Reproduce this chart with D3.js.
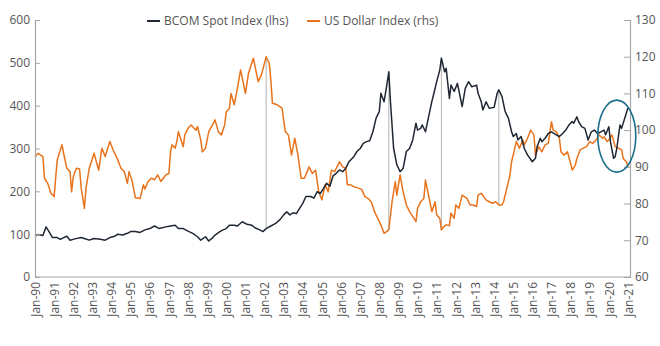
<!DOCTYPE html>
<html>
<head>
<meta charset="utf-8">
<script src="https://cdn.jsdelivr.net/npm/d3@7"></script>
<style>
  body { margin: 0; background: #fff; }
  svg { display: block; font-family: "Open Sans", sans-serif; }
</style>
</head>
<body>
<svg id="chart" width="660" height="346"></svg>
<script>
// ---------- DATA ----------
const bcomDates = ["1990-01","1990-03","1990-06","1990-08","1990-10","1990-12","1991-03","1991-05","1991-07","1991-09","1991-11",
"1992-02","1992-06","1992-08","1992-11","1993-02","1993-06","1993-09","1993-12","1994-03","1994-05","1994-08","1994-11",
"1995-01","1995-04","1995-07","1995-10","1996-01","1996-04","1996-07","1996-11","1997-02","1997-05","1997-07","1997-10",
"1998-01","1998-04","1998-07","1998-09","1998-12","1999-02","1999-04","1999-06","1999-09","1999-11","2000-01","2000-03",
"2000-06","2000-08","2000-11","2001-02","2001-05","2001-07","2001-10","2001-12","2002-02","2002-05","2002-08","2002-11",
"2003-01","2003-03","2003-05","2003-07","2003-09","2003-11","2004-01","2004-03","2004-06","2004-08","2004-10","2004-12",
"2005-02","2005-04","2005-06","2005-08","2005-10","2005-12","2006-02","2006-04","2006-06","2006-09","2006-11","2007-01",
"2007-03","2007-05","2007-07","2007-09","2007-11","2008-01","2008-02","2008-04","2008-05","2008-07","2008-08","2008-10",
"2008-12","2009-02","2009-04","2009-06","2009-08","2009-10","2009-12","2010-01","2010-03","2010-04","2010-06","2010-08",
"2010-10","2010-11","2011-01","2011-03","2011-04","2011-06","2011-07","2011-09","2011-10","2011-12","2012-02","2012-05",
"2012-07","2012-09","2012-11","2013-02","2013-03","2013-05","2013-06","2013-08","2013-10","2014-01","2014-03","2014-04",
"2014-06","2014-08","2014-10","2014-12","2015-01","2015-03","2015-04","2015-06","2015-08","2015-10","2016-01","2016-03",
"2016-04","2016-06","2016-07","2016-09","2016-11","2017-01","2017-04","2017-06","2017-08","2017-10","2017-12","2018-02",
"2018-03","2018-05","2018-06","2018-08","2018-10","2018-12","2019-02","2019-04","2019-06","2019-08","2019-10","2019-11",
"2020-01","2020-02","2020-04","2020-05","2020-06","2020-08","2020-09","2020-11","2021-01"];
const bcomValues = [97,99,97,117,105,92,92,88,92,95,86,
89,92,90,86,90,88,86,92,95,100,98,102,
106,106,104,110,113,119,113,117,119,121,113,113,
107,102,94,86,94,84,90,98,106,110,113,121,
121,119,129,123,121,115,110,106,113,119,125,135,
145,152,145,150,148,160,172,188,188,184,199,195,
207,219,212,236,242,250,246,254,269,281,293,300,
312,316,318,339,371,386,429,409,431,479,409,300,
262,246,254,293,300,320,359,343,347,355,339,375,
410,425,456,483,511,479,487,417,448,433,452,398,
441,456,444,448,429,409,390,409,394,396,429,437,
421,386,371,339,328,335,320,328,300,285,269,277,
304,324,316,324,335,339,332,328,335,343,355,363,
359,374,363,351,347,320,339,343,335,339,343,332,
351,316,277,281,300,355,347,371,395];

const usdDates = ["1990-01","1990-03","1990-06","1990-07","1990-09","1990-11","1991-01","1991-03","1991-06","1991-07","1991-09",
"1991-11","1991-12","1992-01","1992-03","1992-05","1992-06","1992-08","1992-09","1992-11","1993-01","1993-02","1993-05",
"1993-07","1993-09","1993-12","1994-02","1994-05","1994-07","1994-09","1994-11","1994-12","1995-02","1995-04","1995-07",
"1995-09","1995-10","1995-12","1996-02","1996-04","1996-06","1996-08","1996-11","1997-01","1997-02","1997-03","1997-05",
"1997-06","1997-07","1997-10","1997-11","1998-01","1998-03","1998-06","1998-07","1998-09","1998-10","1998-12","1999-02",
"1999-05","1999-06","1999-08","1999-10","1999-12","2000-01","2000-03","2000-04","2000-06","2000-08","2000-10","2001-01",
"2001-03","2001-04","2001-06","2001-09","2001-11","2002-02","2002-04","2002-05","2002-06","2002-09","2002-12","2003-02",
"2003-04","2003-06","2003-08","2003-10","2003-12","2004-02","2004-05","2004-07","2004-09","2004-11","2005-01","2005-03",
"2005-05","2005-07","2005-09","2005-10","2005-12","2006-02","2006-04","2006-05","2006-07","2006-09","2006-12","2007-02",
"2007-04","2007-06","2007-08","2007-10","2007-12","2008-02","2008-04","2008-06","2008-07","2008-09","2008-11","2008-12",
"2009-02","2009-04","2009-06","2009-08","2009-10","2009-12","2010-01","2010-03","2010-05","2010-06","2010-07","2010-10",
"2010-12","2011-01","2011-03","2011-04","2011-05","2011-07","2011-09","2011-10","2011-12","2012-01","2012-03","2012-05",
"2012-08","2012-10","2012-12","2013-02","2013-03","2013-05","2013-08","2013-10","2013-12","2014-02","2014-04","2014-06",
"2014-07","2014-09","2014-11","2014-12","2015-02","2015-03","2015-05","2015-07","2015-08","2015-10","2015-12","2016-02",
"2016-03","2016-05","2016-07","2016-09","2016-11","2017-01","2017-02","2017-04","2017-06","2017-07","2017-09","2017-11",
"2018-01","2018-02","2018-04","2018-05","2018-07","2018-09","2018-11","2019-01","2019-03","2019-05","2019-07","2019-09",
"2019-10","2019-12","2020-01","2020-03","2020-05","2020-07","2020-09","2020-10","2020-12","2021-01"];
const usdValues = [92.8,93.7,92.8,86.9,85.5,82.8,81.9,91.9,96.0,93.7,89.6,
88.7,83.2,87.3,89.6,89.4,84.2,78.7,84.2,89.6,92.3,93.7,89.1,
95.1,92.8,96.9,94.6,91.9,89.6,88.7,85.5,88.7,86.0,81.6,81.4,
85.1,84.0,86.0,86.9,86.5,87.8,86.0,87.8,88.2,94.1,96.0,95.1,
96.9,99.6,95.5,98.7,100.5,101.4,100.0,101.0,97.3,94.1,95.1,99.6,
101.9,102.8,99.6,98.7,101.4,105.0,105.9,110.0,106.9,111.4,116.4,110.0,
115.5,116.9,119.6,113.2,115.0,120.0,118.2,113.7,107.3,106.9,106.0,99.6,
98.7,93.2,97.8,93.2,86.9,86.9,90.0,88.2,89.1,83.2,81.0,85.1,
83.2,89.1,88.7,89.6,91.4,90.0,89.6,85.1,85.1,84.6,84.2,83.8,
81.9,81.4,80.5,77.8,76.0,74.2,71.9,72.5,72.9,80.5,86.0,82.3,
87.8,83.2,79.6,77.8,76.5,75.1,78.7,80.5,81.4,86.4,84.2,77.8,
80.5,76.9,76.0,72.8,73.5,74.2,74.0,77.4,76.0,79.6,78.7,82.3,
81.4,79.6,79.6,79.2,82.3,82.8,81.0,80.5,80.1,80.5,79.6,79.6,
80.5,84.2,87.8,91.4,95.1,96.9,95.1,97.3,96.0,97.8,100.0,98.7,
93.2,95.5,94.1,96.0,96.4,102.3,100.0,99.6,97.8,94.1,93.2,94.1,
91.0,89.1,90.5,92.3,94.6,95.1,95.5,96.9,96.4,97.3,98.7,97.8,
98.2,96.9,97.3,98.7,95.5,95.1,94.6,92.3,91.4,90.0];

const xTickYears = [1990,1991,1992,1993,1994,1995,1996,1997,1998,1999,2000,2001,2002,2003,2004,2005,2006,2007,2008,2009,2010,2011,2012,2013,2014,2015,2016,2017,2018,2019,2020,2021];
const leftTicks = [0,100,200,300,400,500,600];
const rightTicks = [60,70,80,90,100,110,120,130];
const seriesNames = ["BCOM Spot Index (lhs)", "US Dollar Index (rhs)"];
const eventDates = ["2002-02","2008-07","2011-04","2014-04"];
const highlight = { date: "2020-06", value: 329 };

// ---------- SETUP ----------
const parse = d3.timeParse("%Y-%m");
const bcom = bcomDates.map((d, i) => ({ date: parse(d), value: bcomValues[i] }));
const usd = usdDates.map((d, i) => ({ date: parse(d), value: usdValues[i] }));

const svg = d3.select("#chart");
const margin = { left: 35, right: 30, top: 20, bottom: 69 };
const W = 660, H = 346;
const x = d3.scaleTime().domain([new Date(1990, 0, 1), new Date(2021, 0, 1)]).range([35, 628]);
const yL = d3.scaleLinear().domain([0, 600]).range([277, 20]);
const yR = d3.scaleLinear().domain([60, 130]).range([277, 20]);

const colBcom = "#1f2733";
const colUsd = "#e8731c";
const axisCol = "#a6a6a6";
const textCol = "#555";

// interpolate helper
function valueAt(series, date) {
  const bis = d3.bisector(d => d.date).left;
  const i = bis(series, date);
  if (i <= 0) return series[0].value;
  if (i >= series.length) return series[series.length - 1].value;
  const a = series[i - 1], b = series[i];
  const t = (date - a.date) / (b.date - a.date);
  return a.value + t * (b.value - a.value);
}

// event vertical lines
svg.append("g").selectAll("line").data(eventDates).join("line")
  .attr("x1", d => x(parse(d))).attr("x2", d => x(parse(d)))
  .attr("y1", d => yL(valueAt(bcom, parse(d))))
  .attr("y2", d => yR(valueAt(usd, parse(d))))
  .attr("stroke", "#b3b3b3").attr("stroke-width", 1);

// lines
const lineL = d3.line().x(d => x(d.date)).y(d => yL(d.value));
const lineR = d3.line().x(d => x(d.date)).y(d => yR(d.value));

svg.append("path").datum(usd).attr("d", lineR)
  .attr("fill", "none").attr("stroke", colUsd).attr("stroke-width", 1.5).attr("stroke-linejoin", "round");
svg.append("path").datum(bcom).attr("d", lineL)
  .attr("fill", "none").attr("stroke", colBcom).attr("stroke-width", 1.5).attr("stroke-linejoin", "round");

// axes
const gL = svg.append("g").attr("transform", "translate(35,0)")
  .call(d3.axisRight(yL).tickValues(leftTicks).tickSize(5).tickFormat(d3.format("d")));
gL.selectAll("text").attr("x", -5).attr("text-anchor", "end");
const gR = svg.append("g").attr("transform", "translate(630,0)")
  .call(d3.axisLeft(yR).tickValues(rightTicks).tickSize(6).tickFormat(d3.format("d")));
gR.selectAll("text").attr("x", 5).attr("text-anchor", "start");

const fmt = d3.timeFormat("Jan-%y");
const gX = svg.append("g").attr("transform", "translate(0,277)")
  .call(d3.axisBottom(x).tickValues(xTickYears.map(y => new Date(y, 0, 1))).tickSize(0).tickFormat(fmt));
gX.select(".domain").attr("d", "M35,0H630");
gX.selectAll("text")
  .attr("transform", "rotate(-90)")
  .attr("text-anchor", "end")
  .attr("x", -5).attr("y", 0).attr("dy", "0.35em");

[gL, gR, gX].forEach(g => {
  g.select(".domain").attr("stroke", axisCol).attr("stroke-width", 1.2);
  g.selectAll(".tick line").attr("stroke", axisCol);
  g.selectAll("text").attr("fill", textCol).attr("font-size", 12).attr("font-family", "Open Sans");
});

// highlight ellipse
svg.append("ellipse")
  .attr("cx", x(parse(highlight.date))).attr("cy", yL(highlight.value))
  .attr("rx", 19).attr("ry", 36)
  .attr("fill", "none").attr("stroke", "#1c6e8c").attr("stroke-width", 1.6);

// legend
const legend = svg.append("g").attr("font-size", 12).attr("fill", textCol);
const legendItems = [
  { name: seriesNames[0], color: colBcom, x: 147 },
  { name: seriesNames[1], color: colUsd, x: 307 }
];
legendItems.forEach(it => {
  legend.append("line").attr("x1", it.x).attr("x2", it.x + 13).attr("y1", 21).attr("y2", 21)
    .attr("stroke", it.color).attr("stroke-width", 2);
  legend.append("text").attr("x", it.x + 17).attr("y", 21).attr("dy", "0.35em")
    .attr("fill", textCol).text(it.name);
});
</script>
</body>
</html>
